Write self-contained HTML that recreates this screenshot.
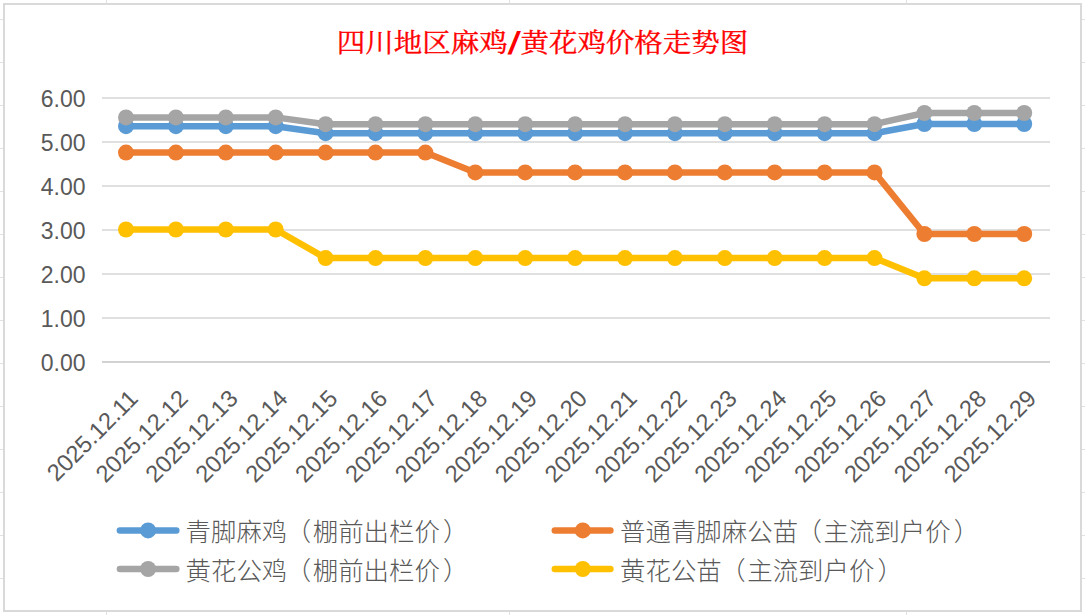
<!DOCTYPE html>
<html><head><meta charset="utf-8"><title>四川地区麻鸡/黄花鸡价格走势图</title>
<style>
html,body{margin:0;padding:0;background:#fff;}
body{width:1085px;height:615px;overflow:hidden;}
svg{display:block;}
.ax .xl{font-size:23.7px;}
.ax text{font-family:"Liberation Sans",Arial,sans-serif;font-size:23px;fill:#595959;}
.lg{font-family:"Liberation Sans","Noto Sans CJK SC",sans-serif;font-size:25.4px;fill:#595959;font-weight:300;letter-spacing:0.05px;}
.title{font-family:"Liberation Serif","Noto Serif CJK SC",serif;font-size:28.5px;font-weight:400;fill:#ff0000;stroke:#ff0000;stroke-width:0.35px;}
.title .sl{font-family:"Liberation Sans",sans-serif;font-weight:700;font-style:italic;font-size:1.17em;stroke-width:0;}
</style></head>
<body>
<svg width="1085" height="615" viewBox="0 0 1085 615">
<rect x="0" y="0" width="1085" height="615" fill="#ffffff"/>
<g><line x1="0" y1="19.5" x2="1085" y2="19.5" stroke="#e1e1e1" stroke-width="1"/><line x1="0" y1="62.5" x2="1085" y2="62.5" stroke="#e1e1e1" stroke-width="1"/><line x1="0" y1="105.5" x2="1085" y2="105.5" stroke="#e1e1e1" stroke-width="1"/><line x1="0" y1="148.5" x2="1085" y2="148.5" stroke="#e1e1e1" stroke-width="1"/><line x1="0" y1="191.5" x2="1085" y2="191.5" stroke="#e1e1e1" stroke-width="1"/><line x1="0" y1="234.5" x2="1085" y2="234.5" stroke="#e1e1e1" stroke-width="1"/><line x1="0" y1="277.5" x2="1085" y2="277.5" stroke="#e1e1e1" stroke-width="1"/><line x1="0" y1="320.5" x2="1085" y2="320.5" stroke="#e1e1e1" stroke-width="1"/><line x1="0" y1="363.5" x2="1085" y2="363.5" stroke="#e1e1e1" stroke-width="1"/><line x1="0" y1="406.5" x2="1085" y2="406.5" stroke="#e1e1e1" stroke-width="1"/><line x1="0" y1="449.5" x2="1085" y2="449.5" stroke="#e1e1e1" stroke-width="1"/><line x1="0" y1="492.5" x2="1085" y2="492.5" stroke="#e1e1e1" stroke-width="1"/><line x1="0" y1="535.5" x2="1085" y2="535.5" stroke="#e1e1e1" stroke-width="1"/><line x1="0" y1="578.5" x2="1085" y2="578.5" stroke="#e1e1e1" stroke-width="1"/><line x1="106.5" y1="0" x2="106.5" y2="615" stroke="#e1e1e1" stroke-width="1"/><line x1="509.5" y1="0" x2="509.5" y2="615" stroke="#e1e1e1" stroke-width="1"/><line x1="906.5" y1="0" x2="906.5" y2="615" stroke="#e1e1e1" stroke-width="1"/></g>
<rect x="4" y="4" width="1077" height="607" fill="#ffffff" stroke="#d9d9d9" stroke-width="2"/>
<text class="title" transform="translate(542.5,51.8) scale(1,0.92)" x="0" y="0" text-anchor="middle">四川地区麻鸡<tspan class="sl" dx="1" dy="2.2">/</tspan><tspan dx="2.5" dy="-2.2">黄花鸡价格走势图</tspan></text>
<g><line x1="102" y1="98" x2="1050" y2="98" stroke="#e0e0e0" stroke-width="2"/><line x1="102" y1="142" x2="1050" y2="142" stroke="#e0e0e0" stroke-width="2"/><line x1="102" y1="186" x2="1050" y2="186" stroke="#e0e0e0" stroke-width="2"/><line x1="102" y1="230" x2="1050" y2="230" stroke="#e0e0e0" stroke-width="2"/><line x1="102" y1="274" x2="1050" y2="274" stroke="#e0e0e0" stroke-width="2"/><line x1="102" y1="318" x2="1050" y2="318" stroke="#e0e0e0" stroke-width="2"/><line x1="102" y1="362" x2="1050" y2="362" stroke="#d2d2d2" stroke-width="2"/></g>
<g class="ax"><text x="85.5" y="371.0" text-anchor="end">0.00</text><text x="85.5" y="327.0" text-anchor="end">1.00</text><text x="85.5" y="283.0" text-anchor="end">2.00</text><text x="85.5" y="239.0" text-anchor="end">3.00</text><text x="85.5" y="195.0" text-anchor="end">4.00</text><text x="85.5" y="151.0" text-anchor="end">5.00</text><text x="85.5" y="107.0" text-anchor="end">6.00</text></g>
<g class="ax"><text class="xl" transform="translate(139.4,400) rotate(-45)" text-anchor="end">2025.12.11</text><text class="xl" transform="translate(189.3,400) rotate(-45)" text-anchor="end">2025.12.12</text><text class="xl" transform="translate(239.2,400) rotate(-45)" text-anchor="end">2025.12.13</text><text class="xl" transform="translate(289.1,400) rotate(-45)" text-anchor="end">2025.12.14</text><text class="xl" transform="translate(339.0,400) rotate(-45)" text-anchor="end">2025.12.15</text><text class="xl" transform="translate(388.9,400) rotate(-45)" text-anchor="end">2025.12.16</text><text class="xl" transform="translate(438.8,400) rotate(-45)" text-anchor="end">2025.12.17</text><text class="xl" transform="translate(488.7,400) rotate(-45)" text-anchor="end">2025.12.18</text><text class="xl" transform="translate(538.6,400) rotate(-45)" text-anchor="end">2025.12.19</text><text class="xl" transform="translate(588.5,400) rotate(-45)" text-anchor="end">2025.12.20</text><text class="xl" transform="translate(638.4,400) rotate(-45)" text-anchor="end">2025.12.21</text><text class="xl" transform="translate(688.3,400) rotate(-45)" text-anchor="end">2025.12.22</text><text class="xl" transform="translate(738.2,400) rotate(-45)" text-anchor="end">2025.12.23</text><text class="xl" transform="translate(788.1,400) rotate(-45)" text-anchor="end">2025.12.24</text><text class="xl" transform="translate(838.0,400) rotate(-45)" text-anchor="end">2025.12.25</text><text class="xl" transform="translate(887.9,400) rotate(-45)" text-anchor="end">2025.12.26</text><text class="xl" transform="translate(937.8,400) rotate(-45)" text-anchor="end">2025.12.27</text><text class="xl" transform="translate(987.7,400) rotate(-45)" text-anchor="end">2025.12.28</text><text class="xl" transform="translate(1037.6,400) rotate(-45)" text-anchor="end">2025.12.29</text></g>
<polyline points="126.0,126.2 175.9,126.2 225.8,126.2 275.7,126.2 325.6,133.2 375.5,133.2 425.4,133.2 475.3,133.2 525.2,133.2 575.1,133.2 625.0,133.2 674.9,133.2 724.8,133.2 774.7,133.2 824.6,133.2 874.5,133.2 924.4,124.0 974.3,124.0 1024.2,124.0" fill="none" stroke="#5B9BD5" stroke-width="6.5" stroke-linejoin="round" stroke-linecap="round"/>
<circle cx="126.0" cy="126.2" r="8" fill="#5B9BD5"/><circle cx="175.9" cy="126.2" r="8" fill="#5B9BD5"/><circle cx="225.8" cy="126.2" r="8" fill="#5B9BD5"/><circle cx="275.7" cy="126.2" r="8" fill="#5B9BD5"/><circle cx="325.6" cy="133.2" r="8" fill="#5B9BD5"/><circle cx="375.5" cy="133.2" r="8" fill="#5B9BD5"/><circle cx="425.4" cy="133.2" r="8" fill="#5B9BD5"/><circle cx="475.3" cy="133.2" r="8" fill="#5B9BD5"/><circle cx="525.2" cy="133.2" r="8" fill="#5B9BD5"/><circle cx="575.1" cy="133.2" r="8" fill="#5B9BD5"/><circle cx="625.0" cy="133.2" r="8" fill="#5B9BD5"/><circle cx="674.9" cy="133.2" r="8" fill="#5B9BD5"/><circle cx="724.8" cy="133.2" r="8" fill="#5B9BD5"/><circle cx="774.7" cy="133.2" r="8" fill="#5B9BD5"/><circle cx="824.6" cy="133.2" r="8" fill="#5B9BD5"/><circle cx="874.5" cy="133.2" r="8" fill="#5B9BD5"/><circle cx="924.4" cy="124.0" r="8" fill="#5B9BD5"/><circle cx="974.3" cy="124.0" r="8" fill="#5B9BD5"/><circle cx="1024.2" cy="124.0" r="8" fill="#5B9BD5"/>
<polyline points="126.0,152.6 175.9,152.6 225.8,152.6 275.7,152.6 325.6,152.6 375.5,152.6 425.4,152.6 475.3,172.4 525.2,172.4 575.1,172.4 625.0,172.4 674.9,172.4 724.8,172.4 774.7,172.4 824.6,172.4 874.5,172.4 924.4,234.0 974.3,234.0 1024.2,234.0" fill="none" stroke="#ED7D31" stroke-width="6.5" stroke-linejoin="round" stroke-linecap="round"/>
<circle cx="126.0" cy="152.6" r="8" fill="#ED7D31"/><circle cx="175.9" cy="152.6" r="8" fill="#ED7D31"/><circle cx="225.8" cy="152.6" r="8" fill="#ED7D31"/><circle cx="275.7" cy="152.6" r="8" fill="#ED7D31"/><circle cx="325.6" cy="152.6" r="8" fill="#ED7D31"/><circle cx="375.5" cy="152.6" r="8" fill="#ED7D31"/><circle cx="425.4" cy="152.6" r="8" fill="#ED7D31"/><circle cx="475.3" cy="172.4" r="8" fill="#ED7D31"/><circle cx="525.2" cy="172.4" r="8" fill="#ED7D31"/><circle cx="575.1" cy="172.4" r="8" fill="#ED7D31"/><circle cx="625.0" cy="172.4" r="8" fill="#ED7D31"/><circle cx="674.9" cy="172.4" r="8" fill="#ED7D31"/><circle cx="724.8" cy="172.4" r="8" fill="#ED7D31"/><circle cx="774.7" cy="172.4" r="8" fill="#ED7D31"/><circle cx="824.6" cy="172.4" r="8" fill="#ED7D31"/><circle cx="874.5" cy="172.4" r="8" fill="#ED7D31"/><circle cx="924.4" cy="234.0" r="8" fill="#ED7D31"/><circle cx="974.3" cy="234.0" r="8" fill="#ED7D31"/><circle cx="1024.2" cy="234.0" r="8" fill="#ED7D31"/>
<polyline points="126.0,117.4 175.9,117.4 225.8,117.4 275.7,117.4 325.6,124.2 375.5,124.2 425.4,124.2 475.3,124.2 525.2,124.2 575.1,124.2 625.0,124.2 674.9,124.2 724.8,124.2 774.7,124.2 824.6,124.2 874.5,124.2 924.4,113.0 974.3,113.0 1024.2,113.0" fill="none" stroke="#A5A5A5" stroke-width="6.5" stroke-linejoin="round" stroke-linecap="round"/>
<circle cx="126.0" cy="117.4" r="8" fill="#A5A5A5"/><circle cx="175.9" cy="117.4" r="8" fill="#A5A5A5"/><circle cx="225.8" cy="117.4" r="8" fill="#A5A5A5"/><circle cx="275.7" cy="117.4" r="8" fill="#A5A5A5"/><circle cx="325.6" cy="124.2" r="8" fill="#A5A5A5"/><circle cx="375.5" cy="124.2" r="8" fill="#A5A5A5"/><circle cx="425.4" cy="124.2" r="8" fill="#A5A5A5"/><circle cx="475.3" cy="124.2" r="8" fill="#A5A5A5"/><circle cx="525.2" cy="124.2" r="8" fill="#A5A5A5"/><circle cx="575.1" cy="124.2" r="8" fill="#A5A5A5"/><circle cx="625.0" cy="124.2" r="8" fill="#A5A5A5"/><circle cx="674.9" cy="124.2" r="8" fill="#A5A5A5"/><circle cx="724.8" cy="124.2" r="8" fill="#A5A5A5"/><circle cx="774.7" cy="124.2" r="8" fill="#A5A5A5"/><circle cx="824.6" cy="124.2" r="8" fill="#A5A5A5"/><circle cx="874.5" cy="124.2" r="8" fill="#A5A5A5"/><circle cx="924.4" cy="113.0" r="8" fill="#A5A5A5"/><circle cx="974.3" cy="113.0" r="8" fill="#A5A5A5"/><circle cx="1024.2" cy="113.0" r="8" fill="#A5A5A5"/>
<polyline points="126.0,229.5 175.9,229.5 225.8,229.5 275.7,229.5 325.6,258.1 375.5,258.1 425.4,258.1 475.3,258.1 525.2,258.1 575.1,258.1 625.0,258.1 674.9,258.1 724.8,258.1 774.7,258.1 824.6,258.1 874.5,258.1 924.4,278.3 974.3,278.3 1024.2,278.3" fill="none" stroke="#FFC000" stroke-width="6.5" stroke-linejoin="round" stroke-linecap="round"/>
<circle cx="126.0" cy="229.5" r="8" fill="#FFC000"/><circle cx="175.9" cy="229.5" r="8" fill="#FFC000"/><circle cx="225.8" cy="229.5" r="8" fill="#FFC000"/><circle cx="275.7" cy="229.5" r="8" fill="#FFC000"/><circle cx="325.6" cy="258.1" r="8" fill="#FFC000"/><circle cx="375.5" cy="258.1" r="8" fill="#FFC000"/><circle cx="425.4" cy="258.1" r="8" fill="#FFC000"/><circle cx="475.3" cy="258.1" r="8" fill="#FFC000"/><circle cx="525.2" cy="258.1" r="8" fill="#FFC000"/><circle cx="575.1" cy="258.1" r="8" fill="#FFC000"/><circle cx="625.0" cy="258.1" r="8" fill="#FFC000"/><circle cx="674.9" cy="258.1" r="8" fill="#FFC000"/><circle cx="724.8" cy="258.1" r="8" fill="#FFC000"/><circle cx="774.7" cy="258.1" r="8" fill="#FFC000"/><circle cx="824.6" cy="258.1" r="8" fill="#FFC000"/><circle cx="874.5" cy="258.1" r="8" fill="#FFC000"/><circle cx="924.4" cy="278.3" r="8" fill="#FFC000"/><circle cx="974.3" cy="278.3" r="8" fill="#FFC000"/><circle cx="1024.2" cy="278.3" r="8" fill="#FFC000"/>

<g><line x1="119.89999999999999" y1="530.4" x2="176.29999999999998" y2="530.4" stroke="#5B9BD5" stroke-width="6.5" stroke-linecap="round"/><circle cx="148.1" cy="530.4" r="8" fill="#5B9BD5"/><text x="185.5" y="541.0" class="lg">青脚麻鸡<tspan dx="-1.5">（</tspan><tspan dx="1.5">棚前出栏价</tspan><tspan dx="3">）</tspan></text><line x1="554.8" y1="530.4" x2="610.4000000000001" y2="530.4" stroke="#ED7D31" stroke-width="6.5" stroke-linecap="round"/><circle cx="582.8" cy="530.4" r="8" fill="#ED7D31"/><text x="620" y="541.0" class="lg">普通青脚麻公苗<tspan dx="-1.5">（</tspan><tspan dx="1.5">主流到户价</tspan><tspan dx="3">）</tspan></text><line x1="119.89999999999999" y1="569.0" x2="176.29999999999998" y2="569.0" stroke="#A5A5A5" stroke-width="6.5" stroke-linecap="round"/><circle cx="148.1" cy="569.0" r="8" fill="#A5A5A5"/><text x="185.5" y="579.6" class="lg">黄花公鸡<tspan dx="-1.5">（</tspan><tspan dx="1.5">棚前出栏价</tspan><tspan dx="3">）</tspan></text><line x1="554.8" y1="569.0" x2="610.4000000000001" y2="569.0" stroke="#FFC000" stroke-width="6.5" stroke-linecap="round"/><circle cx="582.8" cy="569.0" r="8" fill="#FFC000"/><text x="620" y="579.6" class="lg">黄花公苗<tspan dx="-1.5">（</tspan><tspan dx="1.5">主流到户价</tspan><tspan dx="3">）</tspan></text></g>
</svg>
</body></html>
